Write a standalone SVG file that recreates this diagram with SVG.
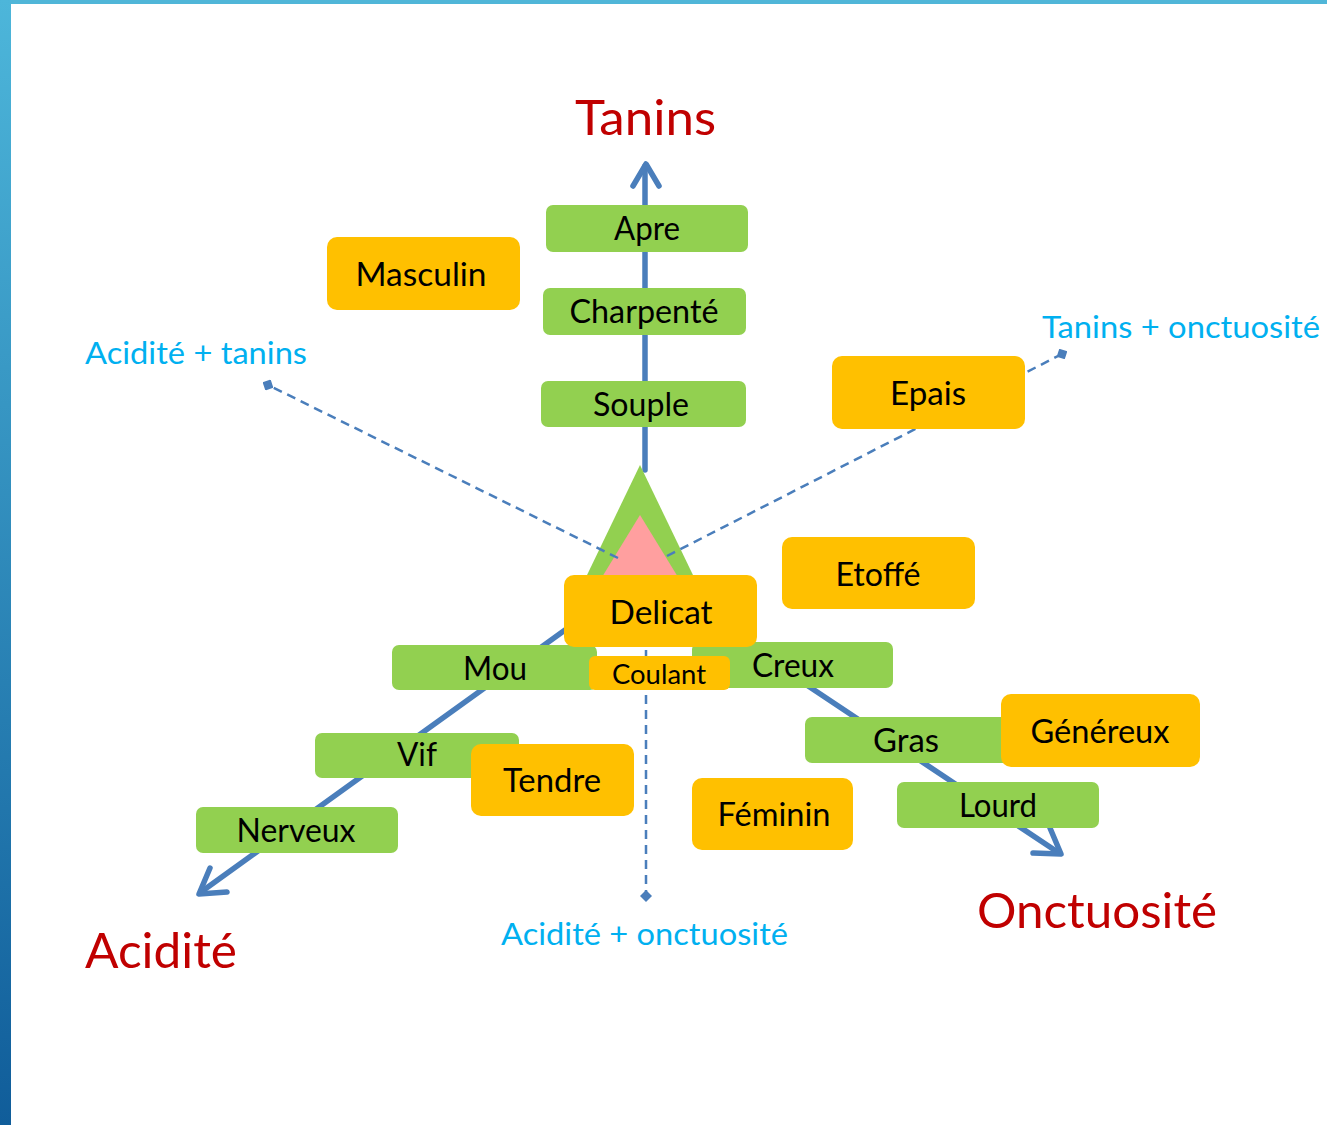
<svg xmlns="http://www.w3.org/2000/svg" width="1327" height="1125" viewBox="0 0 1327 1125">
<defs>
<linearGradient id="side" x1="0" y1="0" x2="0" y2="1">
<stop offset="0" stop-color="#4db6da"/>
<stop offset="1" stop-color="#105d9a"/>
</linearGradient>
<marker id="dia" markerWidth="12" markerHeight="12" refX="6" refY="6" orient="auto" markerUnits="userSpaceOnUse">
<path d="M0,6 L6,0 L12,6 L6,12 Z" fill="#4a7ebb"/>
</marker>
<style>
.g{fill:#92d050}
.o{fill:#ffc000}
.t{font-family:Lato,"Liberation Sans",sans-serif;font-size:32px;fill:#000;text-anchor:middle}
.sm{font-size:27px}
.red{font-family:Lato,"Liberation Sans",sans-serif;font-size:49px;fill:#c00000}
.cy{font-family:Lato,"Liberation Sans",sans-serif;font-size:30px;fill:#00b0f0}
.ax{stroke:#4a7ebb;stroke-width:5.5;fill:none;stroke-linecap:round;stroke-linejoin:round}
.da{stroke:#4a7ebb;stroke-width:2.5;fill:none;stroke-dasharray:9 6}
</style>
</defs>
<rect x="0" y="0" width="1327" height="1125" fill="#fff"/>
<rect x="0" y="0" width="1327" height="4" fill="#50b6d8"/>
<rect x="0" y="0" width="11" height="1125" fill="url(#side)"/>

<g id="connectors">
<path class="ax" d="M645,470 L645,166"/>
<path class="ax" d="M633,186 L646,164 L659,186"/>
<path class="ax" d="M590,612 L201,892"/>
<path class="ax" d="M210,868 L199,894 L227,892"/>
<path class="ax" d="M700,614 L1059,853"/>
<path class="ax" d="M1050,828 L1061,854 L1033,853"/>
</g>

<g id="triangle">
<polygon points="640,465 575,600 705,600" fill="#92d050"/>
<polygon points="640,515 588,600 692,600" fill="#ff9f9f"/>
</g>

<g id="dashed">
<path class="da" d="M618,558 L268,385" marker-end="url(#dia)"/>
<path class="da" d="M667,556 L1062,354" marker-end="url(#dia)"/>
<path class="da" d="M646,650 L646,896" marker-end="url(#dia)"/>
</g>

<g id="n-apre"><rect class="g" x="546" y="205" width="202" height="47" rx="7"/><text class="t" x="647" y="240" textLength="66" lengthAdjust="spacingAndGlyphs">Apre</text></g>
<g id="n-charpente"><rect class="g" x="543" y="288" width="203" height="47" rx="7"/><text class="t" x="644" y="323" textLength="149" lengthAdjust="spacingAndGlyphs">Charpenté</text></g>
<g id="n-souple"><rect class="g" x="541" y="381" width="205" height="46" rx="7"/><text class="t" x="641" y="416" textLength="96" lengthAdjust="spacingAndGlyphs">Souple</text></g>
<g id="n-masculin"><rect class="o" x="327" y="237" width="193" height="73" rx="10"/><text class="t" x="421" y="286" textLength="131" lengthAdjust="spacingAndGlyphs">Masculin</text></g>
<g id="n-epais"><rect class="o" x="832" y="356" width="193" height="73" rx="10"/><text class="t" x="928" y="405" textLength="76" lengthAdjust="spacingAndGlyphs">Epais</text></g>
<g id="n-etoffe"><rect class="o" x="782" y="537" width="193" height="72" rx="10"/><text class="t" x="878" y="586" textLength="85" lengthAdjust="spacingAndGlyphs">Etoffé</text></g>
<g id="n-mou"><rect class="g" x="392" y="645" width="205" height="45" rx="7"/><text class="t" x="495" y="680" textLength="64" lengthAdjust="spacingAndGlyphs">Mou</text></g>
<g id="n-creux"><rect class="g" x="692" y="642" width="201" height="46" rx="7"/><text class="t" x="793" y="677" textLength="82" lengthAdjust="spacingAndGlyphs">Creux</text></g>
<g id="n-delicat"><rect class="o" x="564" y="575" width="193" height="72" rx="10"/><text class="t" x="661" y="624" textLength="103" lengthAdjust="spacingAndGlyphs">Delicat</text></g>
<g id="n-coulant"><rect class="o" x="589" y="656" width="141" height="34" rx="6"/><text class="t sm" x="659" y="684" textLength="94" lengthAdjust="spacingAndGlyphs">Coulant</text></g>
<g id="n-vif"><rect class="g" x="315" y="733" width="204" height="45" rx="7"/><text class="t" x="417" y="766" textLength="40" lengthAdjust="spacingAndGlyphs">Vif</text></g>
<g id="n-tendre"><rect class="o" x="471" y="744" width="163" height="72" rx="10"/><text class="t" x="552" y="792" textLength="98" lengthAdjust="spacingAndGlyphs">Tendre</text></g>
<g id="n-nerveux"><rect class="g" x="196" y="807" width="202" height="46" rx="7"/><text class="t" x="296" y="842" textLength="119" lengthAdjust="spacingAndGlyphs">Nerveux</text></g>
<g id="n-gras"><rect class="g" x="805" y="717" width="205" height="46" rx="7"/><text class="t" x="906" y="752" textLength="66" lengthAdjust="spacingAndGlyphs">Gras</text></g>
<g id="n-genereux"><rect class="o" x="1001" y="694" width="199" height="73" rx="10"/><text class="t" x="1100" y="743" textLength="139" lengthAdjust="spacingAndGlyphs">Généreux</text></g>
<g id="n-feminin"><rect class="o" x="692" y="778" width="161" height="72" rx="10"/><text class="t" x="774" y="826" textLength="113" lengthAdjust="spacingAndGlyphs">Féminin</text></g>
<g id="n-lourd"><rect class="g" x="897" y="782" width="202" height="46" rx="7"/><text class="t" x="998" y="817" textLength="78" lengthAdjust="spacingAndGlyphs">Lourd</text></g>

<g id="labels">
<text class="red" x="575" y="135" textLength="141" lengthAdjust="spacingAndGlyphs">Tanins</text>
<text class="red" x="85" y="968" textLength="152" lengthAdjust="spacingAndGlyphs">Acidité</text>
<text class="red" x="977" y="928" textLength="240" lengthAdjust="spacingAndGlyphs">Onctuosité</text>
<text class="cy" x="85" y="364" textLength="222" lengthAdjust="spacingAndGlyphs">Acidité + tanins</text>
<text class="cy" x="1042" y="338" textLength="278" lengthAdjust="spacingAndGlyphs">Tanins + onctuosité</text>
<text class="cy" x="501" y="945" textLength="287" lengthAdjust="spacingAndGlyphs">Acidité + onctuosité</text>
</g>
</svg>
